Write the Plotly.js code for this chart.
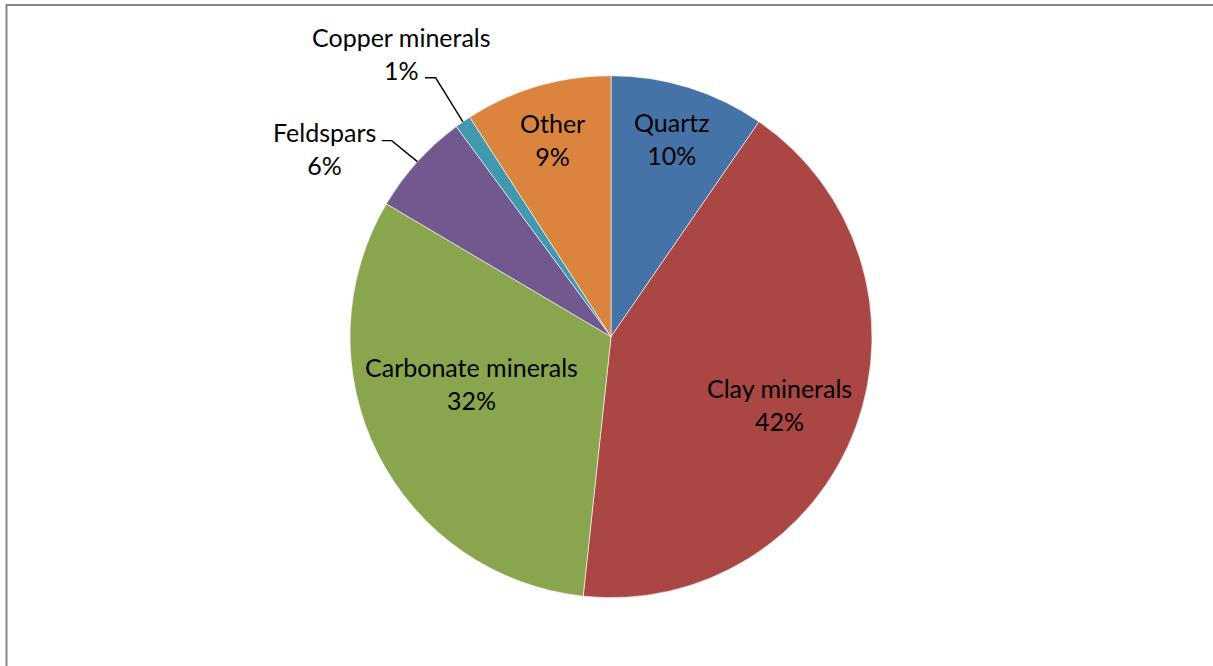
<!DOCTYPE html>
<html>
<head>
<meta charset="utf-8">
<script src="https://cdn.plot.ly/plotly-3.0.1.min.js"></script>
<style>
html,body{margin:0;padding:0;background:#fff;}
#chart{width:1213px;height:666px;}
</style>
</head>
<body>
<div id="chart"></div>
<script>
// ---- data ----
const labels = ['Quartz', 'Clay minerals', 'Carbonate minerals', 'Feldspars', 'Copper minerals', 'Other'];
const values = [9.6, 42.1, 31.8, 6.4, 1.0, 9.1];
const colors = ['#4572A7', '#AA4643', '#89A54E', '#71588F', '#4198AF', '#DB843D'];

// ---- label placement (style, not data) ----
// inside labels: radial fraction + angle offset (deg); outside: pixel offsets from slice edge midpoint
const labelMode   = ['in', 'in', 'in', 'out', 'out', 'in'];
const labelRadius = [0.793, 0.697, 0.563, 0, 0, 0.789];
const labelAngOff = [-0.1, 1.7, 8.1, 0, 0, 0];
const outText  = {3: [-93.4, -12.7], 4: [-61, -68.2]};
const outElbow = {3: [-25.7, -21], 4: [-27.3, -44]};
const outEnd   = {3: -10, 4: -10.7};

const W = 1213, H = 666;
const CX = 611, CY = 336.7, R = 261;
const FONT = 'Lato, "Open Sans", sans-serif';
const FS = 25;

const total = values.reduce((a, b) => a + b, 0);
const px = x => x / W;
const py = y => 1 - y / H;

const annotations = [];
const shapes = [];
let cum = 0;
values.forEach((v, i) => {
  const midFrac = (cum + v / 2) / total;
  cum += v;
  const pct = Math.round(v / total * 100) + '%';
  const text = labels[i] + '<br>' + pct;
  if (labelMode[i] === 'in') {
    const a = (midFrac * 360 + labelAngOff[i]) * Math.PI / 180;
    const r = R * labelRadius[i];
    const x = CX + r * Math.sin(a), y = CY - r * Math.cos(a);
    annotations.push({x: px(x), y: py(y), xref: 'paper', yref: 'paper', text: text,
      showarrow: false, xanchor: 'center', yanchor: 'middle', align: 'center',
      font: {family: FONT, size: FS, color: '#000'}});
  } else {
    const a = midFrac * 2 * Math.PI;
    const ex = CX + R * Math.sin(a), ey = CY - R * Math.cos(a);
    const bx = ex + outElbow[i][0], by = ey + outElbow[i][1];
    const lx = bx + outEnd[i];
    shapes.push({type: 'path', xref: 'paper', yref: 'paper',
      path: 'M' + px(ex) + ',' + py(ey) + ' L' + px(bx) + ',' + py(by) + ' L' + px(lx) + ',' + py(by),
      line: {color: '#000', width: 1.4}});
    annotations.push({x: px(ex + outText[i][0]), y: py(ey + outText[i][1]), xref: 'paper', yref: 'paper',
      text: text, showarrow: false, xanchor: 'center', yanchor: 'middle', align: 'center',
      font: {family: FONT, size: FS, color: '#000'}});
  }
});

// outer frame
shapes.push({type: 'rect', xref: 'paper', yref: 'paper', x0: px(6.5), x1: px(1220), y0: py(672), y1: py(5),
  line: {color: '#868686', width: 2}, fillcolor: 'rgba(0,0,0,0)', layer: 'below'});

const trace = {
  type: 'pie',
  labels: labels,
  values: values,
  sort: false,
  direction: 'clockwise',
  rotation: 0,
  textinfo: 'none',
  hoverinfo: 'skip',
  marker: {colors: colors, line: {color: '#ffffff', width: 0.6}},
  domain: {x: [px(CX - R), px(CX + R)], y: [py(CY + R), py(CY - R)]},
  showlegend: false
};

Plotly.newPlot('chart', [trace], {
  width: W, height: H,
  margin: {l: 0, r: 0, t: 0, b: 0},
  paper_bgcolor: '#fff',
  showlegend: false,
  annotations: annotations,
  shapes: shapes
}, {displayModeBar: false, staticPlot: true});
</script>
</body>
</html>
